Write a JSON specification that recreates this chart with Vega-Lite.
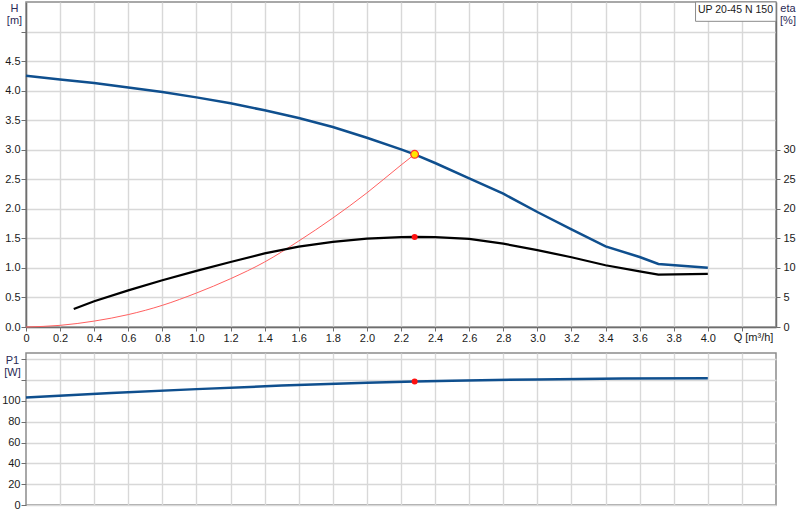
{
  "$schema": "https://vega.github.io/schema/vega-lite/v6.json",
  "background": "white",
  "padding": 0,
  "bounds": "flush",
  "spacing": 26,
  "config": {
    "view": {"stroke": "#8c8c8c", "strokeWidth": 1.5},
    "axis": {
      "labelFont": "Liberation Sans",
      "labelFontSize": 11,
      "labelColor": "#1a1a1a",
      "labelPadding": 1,
      "labelFlush": false,
      "labelBound": false,
      "labelOverlap": false,
      "titleFont": "Liberation Sans",
      "titleFontSize": 11,
      "titleFontWeight": "normal",
      "titleColor": "#2a2a55",
      "titleAngle": 0,
      "titleAlign": "center",
      "titleBaseline": "top",
      "titleLineHeight": 12.5,
      "gridColor": "#d8d8d8",
      "gridWidth": 1.4,
      "domainColor": "#6e6e6e",
      "domainWidth": 1.5,
      "tickColor": "#6e6e6e",
      "tickSize": 5
    }
  },
  "datasets": {
    "head": [
      {"Q": 0, "H": 4.25}, {"Q": 0.2, "H": 4.19}, {"Q": 0.4, "H": 4.13},
      {"Q": 0.6, "H": 4.055}, {"Q": 0.8, "H": 3.976}, {"Q": 1.0, "H": 3.886},
      {"Q": 1.2, "H": 3.785}, {"Q": 1.4, "H": 3.667}, {"Q": 1.6, "H": 3.536},
      {"Q": 1.8, "H": 3.384}, {"Q": 2.0, "H": 3.203}, {"Q": 2.2, "H": 3.007},
      {"Q": 2.28, "H": 2.922}, {"Q": 2.4, "H": 2.775}, {"Q": 2.6, "H": 2.515},
      {"Q": 2.8, "H": 2.256}, {"Q": 3.0, "H": 1.946}, {"Q": 3.2, "H": 1.653},
      {"Q": 3.4, "H": 1.365}, {"Q": 3.6, "H": 1.184}, {"Q": 3.71, "H": 1.066},
      {"Q": 4.0, "H": 1.004}
    ],
    "system": [
      {"Q": 0, "H": 0}, {"Q": 0.2, "H": 0.028}, {"Q": 0.4, "H": 0.1},
      {"Q": 0.6, "H": 0.21}, {"Q": 0.8, "H": 0.367}, {"Q": 1.0, "H": 0.575},
      {"Q": 1.2, "H": 0.817}, {"Q": 1.4, "H": 1.1}, {"Q": 1.6, "H": 1.455},
      {"Q": 1.8, "H": 1.844}, {"Q": 2.0, "H": 2.27}, {"Q": 2.2, "H": 2.74},
      {"Q": 2.28, "H": 2.922}
    ],
    "eta": [
      {"Q": 0.28, "eta": 3.05}, {"Q": 0.4, "eta": 4.35}, {"Q": 0.6, "eta": 6.2},
      {"Q": 0.8, "eta": 7.9}, {"Q": 1.0, "eta": 9.5}, {"Q": 1.2, "eta": 11.0},
      {"Q": 1.4, "eta": 12.45}, {"Q": 1.6, "eta": 13.6}, {"Q": 1.8, "eta": 14.4},
      {"Q": 2.0, "eta": 14.95}, {"Q": 2.2, "eta": 15.2}, {"Q": 2.28, "eta": 15.25},
      {"Q": 2.4, "eta": 15.2}, {"Q": 2.6, "eta": 14.9}, {"Q": 2.8, "eta": 14.1},
      {"Q": 3.0, "eta": 13.0}, {"Q": 3.2, "eta": 11.8}, {"Q": 3.4, "eta": 10.45},
      {"Q": 3.6, "eta": 9.4}, {"Q": 3.71, "eta": 8.85}, {"Q": 4.0, "eta": 9.0}
    ],
    "power": [
      {"Q": 0, "P1": 103.3}, {"Q": 0.5, "P1": 107.5}, {"Q": 1.0, "P1": 111.3},
      {"Q": 1.5, "P1": 114.7}, {"Q": 2.0, "P1": 117.5}, {"Q": 2.28, "P1": 118.6},
      {"Q": 2.5, "P1": 119.4}, {"Q": 3.0, "P1": 120.6}, {"Q": 3.5, "P1": 121.6},
      {"Q": 4.0, "P1": 121.8}
    ],
    "duty": [
      {"Q": 2.28, "H": 2.922, "eta": 15.25, "P1": 118.6}
    ]
  },
  "vconcat": [
    {
      "width": 750,
      "height": 325,
      "resolve": {"scale": {"y": "independent"}},
      "layer": [
        {
          "layer": [
            {
              "data": {"name": "head"},
              "mark": {"type": "line", "color": "#0f4f8e", "strokeWidth": 2.5},
              "encoding": {
                "x": {
                  "field": "Q", "type": "quantitative",
                  "scale": {"domain": [0, 4.4], "nice": false, "zero": false},
                  "axis": {
                    "values": [0, 0.2, 0.4, 0.6, 0.8, 1.0, 1.2, 1.4, 1.6, 1.8, 2.0, 2.2, 2.4, 2.6, 2.8, 3.0, 3.2, 3.4, 3.6, 3.8, 4.0, 4.2],
                    "tickCount": 100,
                    "labelExpr": "datum.value == 0 ? '0' : (datum.value > 4.1 ? '' : format(datum.value, '.1f'))",
                    "tickSize": 4,
                    "title": "Q [m³/h]",
                    "titleX": 727,
                    "titleY": 4,
                    "titleColor": "#1a1a1a"
                  }
                },
                "y": {
                  "field": "H", "type": "quantitative",
                  "scale": {"domain": [0, 5.5], "nice": false},
                  "axis": {
                    "values": [0, 0.5, 1.0, 1.5, 2.0, 2.5, 3.0, 3.5, 4.0, 4.5, 5.0],
                    "tickCount": 100,
                    "labelExpr": "datum.value > 4.6 ? '' : format(datum.value, '.1f')",
                    "title": ["H", "[m]"],
                    "titleX": -12,
                    "titleY": 0
                  }
                }
              }
            },
            {
              "data": {"name": "system"},
              "mark": {"type": "line", "color": "#ff6060", "strokeWidth": 1, "interpolate": "monotone"},
              "encoding": {
                "x": {"field": "Q", "type": "quantitative"},
                "y": {"field": "H", "type": "quantitative"}
              }
            },
            {
              "data": {"name": "duty"},
              "mark": {"type": "point", "filled": true, "fill": "#ffe600", "stroke": "#ff3030", "strokeWidth": 1.2, "opacity": 1, "size": 60},
              "encoding": {
                "x": {"field": "Q", "type": "quantitative"},
                "y": {"field": "H", "type": "quantitative"}
              }
            },
            {
              "data": {"values": [{"label": "UP 20-45 N 150"}]},
              "mark": {"type": "rect", "fill": "white", "stroke": "#8c8c8c", "strokeWidth": 1},
              "encoding": {
                "x": {"datum": 3.928, "type": "quantitative"},
                "x2": {"datum": 4.4},
                "y": {"datum": 5.5, "type": "quantitative"},
                "y2": {"datum": 5.173}
              }
            },
            {
              "data": {"values": [{"label": "UP 20-45 N 150"}]},
              "mark": {"type": "text", "font": "Liberation Sans", "fontSize": 10.5, "color": "#1a1a1a", "align": "center", "baseline": "middle"},
              "encoding": {
                "x": {"datum": 4.162, "type": "quantitative"},
                "y": {"datum": 5.36, "type": "quantitative"},
                "text": {"field": "label"}
              }
            }
          ]
        },
        {
          "layer": [
            {
              "data": {"name": "eta"},
              "mark": {"type": "line", "color": "#000000", "strokeWidth": 2.2},
              "encoding": {
                "x": {"field": "Q", "type": "quantitative"},
                "y": {
                  "field": "eta", "type": "quantitative",
                  "scale": {"domain": [0, 55], "nice": false},
                  "axis": {
                    "orient": "right",
                    "values": [0, 5, 10, 15, 20, 25, 30],
                    "tickCount": 100,
                    "format": "d",
                    "grid": false,
                    "tickSize": 4,
                    "labelPadding": 3,
                    "title": ["eta", "[%]"],
                    "titleX": 11.5,
                    "titleY": 0
                  }
                }
              }
            },
            {
              "data": {"name": "duty"},
              "mark": {"type": "point", "filled": true, "color": "#ff1010", "opacity": 1, "size": 36},
              "encoding": {
                "x": {"field": "Q", "type": "quantitative"},
                "y": {"field": "eta", "type": "quantitative"}
              }
            }
          ]
        }
      ]
    },
    {
      "width": 750,
      "height": 152,
      "layer": [
        {
          "data": {"name": "power"},
          "mark": {"type": "line", "color": "#0f4f8e", "strokeWidth": 2.5},
          "encoding": {
            "x": {
              "field": "Q", "type": "quantitative",
              "scale": {"domain": [0, 4.4], "nice": false, "zero": false},
              "axis": {
                "values": [0.2, 0.4, 0.6, 0.8, 1.0, 1.2, 1.4, 1.6, 1.8, 2.0, 2.2, 2.4, 2.6, 2.8, 3.0, 3.2, 3.4, 3.6, 3.8, 4.0, 4.2],
                "tickCount": 100,
                "labels": false,
                "ticks": false,
                "domain": false,
                "title": null
              }
            },
            "y": {
              "field": "P1", "type": "quantitative",
              "scale": {"domain": [0, 146], "nice": false},
              "axis": {
                "values": [0, 20, 40, 60, 80, 100, 120, 140],
                "tickCount": 100,
                "labelExpr": "datum.value > 110 ? '' : format(datum.value, 'd')",
                "domain": false,
                "title": ["P1", "[W]"],
                "titleX": -14,
                "titleY": 1
              }
            }
          }
        },
        {
          "data": {"name": "duty"},
          "mark": {"type": "point", "filled": true, "color": "#ff1010", "opacity": 1, "size": 36},
          "encoding": {
            "x": {"field": "Q", "type": "quantitative"},
            "y": {"field": "P1", "type": "quantitative"}
          }
        }
      ]
    }
  ]
}
